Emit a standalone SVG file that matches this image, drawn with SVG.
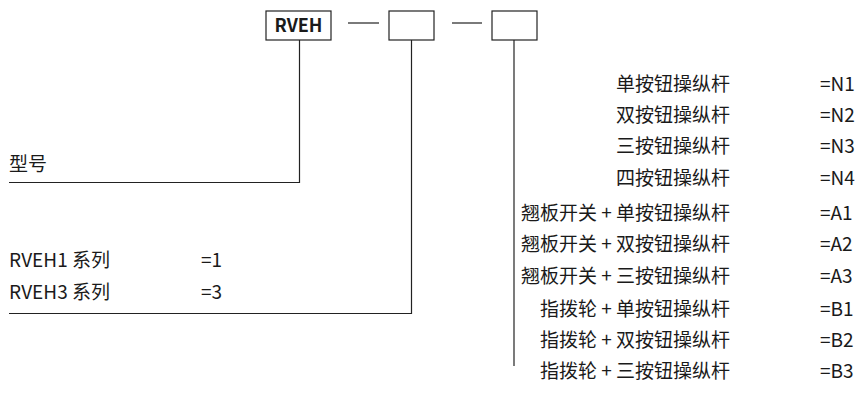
<svg xmlns="http://www.w3.org/2000/svg" width="857" height="394" viewBox="0 0 857 394">
<style>
.t{font-family:"Noto Sans CJK SC","Noto Sans",sans-serif;font-size:19px;fill:#1a1a1a}
.r{text-anchor:end}
.b{font-family:"Noto Sans CJK SC","Noto Sans",sans-serif;font-size:18px;font-weight:bold;fill:#1a1a1a;text-anchor:middle}
.box{fill:#fff;stroke:#222;stroke-width:1.2}
.ln{fill:none;stroke:#222;stroke-width:1.2}
</style>
<rect width="857" height="394" fill="#fff"/>
<g id="box-rveh"><rect class="box" x="266" y="11" width="65" height="29"/><text class="b" x="298.5" y="32">RVEH</text></g>
<g id="box-2"><rect class="box" x="389" y="11" width="45" height="29"/></g>
<g id="box-3"><rect class="box" x="492" y="11" width="45" height="29"/></g>
<g id="connectors">
<line class="ln" x1="348" y1="23" x2="379" y2="23"/>
<line class="ln" x1="452" y1="23" x2="482" y2="23"/>
<polyline class="ln" points="299.5,40 299.5,182.5 9,182.5"/>
<polyline class="ln" points="411.5,40 411.5,313.5 9,313.5"/>
<line class="ln" x1="514" y1="40" x2="514" y2="366"/>
</g>
<g id="left-labels">
<text class="t" x="9" y="171">型号</text>
<text class="t" x="9" y="267">RVEH1 系列</text>
<text class="t" x="201" y="267">=1</text>
<text class="t" x="9" y="299">RVEH3 系列</text>
<text class="t" x="201" y="299">=3</text>
</g>
<g id="right-labels">
<text class="t r" x="730" y="91">单按钮操纵杆</text><text class="t" x="820" y="91">=N1</text>
<text class="t r" x="730" y="122">双按钮操纵杆</text><text class="t" x="820" y="122">=N2</text>
<text class="t r" x="730" y="153">三按钮操纵杆</text><text class="t" x="820" y="153">=N3</text>
<text class="t r" x="730" y="185">四按钮操纵杆</text><text class="t" x="820" y="185">=N4</text>
<text class="t r" x="730" y="220">翘板开关 + 单按钮操纵杆</text><text class="t" x="820" y="220">=A1</text>
<text class="t r" x="730" y="251">翘板开关 + 双按钮操纵杆</text><text class="t" x="820" y="251">=A2</text>
<text class="t r" x="730" y="283">翘板开关 + 三按钮操纵杆</text><text class="t" x="820" y="283">=A3</text>
<text class="t r" x="730" y="316">指拨轮 + 单按钮操纵杆</text><text class="t" x="820" y="316">=B1</text>
<text class="t r" x="730" y="347">指拨轮 + 双按钮操纵杆</text><text class="t" x="820" y="347">=B2</text>
<text class="t r" x="730" y="378">指拨轮 + 三按钮操纵杆</text><text class="t" x="820" y="378">=B3</text>
</g>
</svg>
